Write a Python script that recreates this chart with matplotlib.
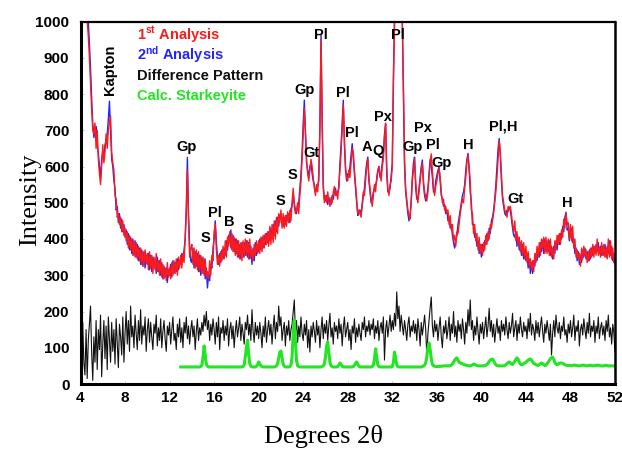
import numpy as np
import matplotlib
matplotlib.use("Agg")
import matplotlib.pyplot as plt

# scan step of the XRD pattern (degrees 2-theta)
step = 0.1
start_main = 4.0
start_diff = 4.2
start_calc = 13.0

# 1st analysis, 4.0 .. 52.0 (one row per degree)
analysis_1 = [
    1000, 1000, 1000, 1000, 1000, 1000, 1000, 960, 900, 830,
    760, 700, 690, 720, 650, 700, 620, 580, 550, 600,
    660, 610, 640, 690, 650, 700, 720, 740, 640, 610,
    590, 520, 510, 460, 470, 440, 460, 420, 450, 410,
    430, 395, 420, 375, 410, 370, 400, 355, 395, 350,
    390, 345, 380, 340, 375, 330, 365, 325, 370, 335,
    360, 315, 365, 320, 355, 305, 350, 315, 360, 310,
    340, 300, 345, 295, 330, 290, 320, 285, 335, 295,
    320, 290, 335, 300, 340, 305, 345, 300, 350, 320,
    355, 320, 360, 335, 400, 470, 590, 450, 350, 375,
    385, 330, 375, 320, 370, 315, 365, 310, 355, 305,
    350, 300, 345, 295, 310, 290, 340, 300, 355, 340,
    420, 440, 370, 330, 355, 325, 365, 340, 380, 345,
    395, 350, 405, 380, 420, 375, 415, 365, 405, 355,
    400, 350, 395, 345, 390, 340, 395, 350, 400, 355,
    395, 345, 400, 350, 370, 340, 385, 355, 395, 360,
    395, 360, 405, 365, 410, 375, 415, 385, 420, 380,
    435, 385, 440, 390, 450, 400, 460, 415, 470, 445,
    480, 430, 470, 430, 465, 435, 475, 445, 480, 450,
    500, 540, 490, 470, 480, 500, 470, 520, 560, 620,
    690, 760, 700, 620, 580, 560, 590, 620, 600, 570,
    540, 520, 550, 530, 580, 700, 950, 720, 540, 500,
    520, 500, 530, 505, 490, 515, 500, 530, 545, 520,
    530, 510, 550, 590, 640, 700, 770, 680, 600, 570,
    560, 590, 570, 610, 650, 640, 590, 550, 510, 470,
    480, 470, 460, 500, 530, 520, 560, 600, 620, 570,
    540, 510, 490, 520, 550, 530, 570, 590, 600, 580,
    560, 600, 620, 680, 720, 600, 540, 520, 550, 560,
    600, 820, 1000, 1000, 1000, 1000, 1000, 1000, 1000, 1000,
    820, 620, 540, 510, 480, 465, 455, 500, 560, 590,
    620, 560, 520, 500, 530, 560, 590, 610, 560, 530,
    515, 505, 530, 570, 610, 635, 590, 540, 520, 545,
    560, 580, 595, 570, 530, 500, 510, 480, 490, 470,
    480, 440, 465, 425, 440, 395, 410, 380, 420, 415,
    440, 470, 490, 510, 500, 540, 570, 610, 630, 600,
    560, 480, 470, 415, 440, 395, 415, 370, 405, 360,
    385, 355, 390, 370, 410, 385, 420, 400, 440, 430,
    450, 470, 500, 530, 570, 620, 670, 640, 580, 520,
    500, 480, 470, 460, 490, 480, 490, 470, 440, 420,
    450, 395, 420, 385, 405, 365, 395, 355, 390, 345,
    380, 335, 365, 325, 345, 315, 340, 310, 360, 335,
    380, 350, 390, 355, 400, 375, 405, 360, 405, 360,
    400, 355, 400, 350, 375, 345, 395, 370, 410, 385,
    415, 385, 425, 405, 455, 430, 470, 440, 445, 400,
    440, 395, 435, 375, 400, 350, 370, 345, 360, 325,
    375, 345, 380, 355, 370, 335, 365, 340, 375, 350,
    385, 350, 380, 355, 400, 355, 375, 350, 390, 355,
    385, 350, 375, 345, 400, 350, 395, 345, 375, 335,
    340,
]

# 2nd analysis, 4.0 .. 52.0
analysis_2 = [
    1000, 1000, 1000, 1000, 1000, 1000, 1000, 1000, 940, 870,
    790, 720, 680, 700, 710, 660, 640, 600, 570, 620,
    640, 630, 660, 670, 690, 730, 780, 700, 620, 600,
    560, 540, 480, 490, 445, 470, 430, 455, 420, 440,
    405, 425, 385, 415, 370, 405, 360, 400, 355, 395,
    350, 385, 340, 375, 330, 370, 325, 365, 320, 355,
    330, 360, 315, 355, 310, 350, 320, 345, 305, 350,
    310, 340, 300, 335, 290, 325, 295, 320, 280, 315,
    300, 330, 295, 340, 305, 335, 310, 345, 315, 340,
    330, 360, 340, 370, 400, 490, 625, 470, 380, 340,
    335, 375, 320, 365, 325, 360, 310, 355, 300, 350,
    305, 345, 290, 320, 265, 300, 285, 330, 320, 375,
    400, 450, 395, 350, 330, 360, 335, 370, 345, 375,
    355, 395, 370, 410, 395, 425, 370, 410, 365, 400,
    360, 395, 350, 385, 345, 390, 350, 390, 355, 395,
    350, 390, 345, 380, 330, 375, 340, 390, 355, 385,
    365, 400, 370, 405, 375, 410, 385, 415, 390, 420,
    395, 430, 400, 440, 410, 450, 420, 460, 435, 465,
    470, 445, 435, 460, 440, 465, 450, 470, 445, 485,
    490, 525, 500, 480, 470, 490, 500, 540, 580, 640,
    720, 783, 690, 610, 590, 570, 600, 610, 580, 560,
    550, 530, 540, 545, 560, 720, 964, 740, 550, 510,
    505, 520, 495, 515, 500, 495, 520, 510, 530, 540,
    520, 530, 540, 610, 660, 720, 783, 660, 590, 560,
    580, 570, 600, 630, 663, 620, 580, 540, 500, 465,
    470, 480, 470, 490, 520, 540, 580, 610, 626, 560,
    530, 500, 510, 530, 540, 550, 560, 585, 600, 570,
    580, 610, 640, 690, 718, 580, 530, 530, 540, 575,
    610, 850, 1000, 1000, 1000, 1000, 1000, 1000, 1000, 1000,
    790, 600, 530, 500, 470, 450, 470, 510, 570, 610,
    626, 540, 510, 510, 540, 570, 600, 618, 550, 520,
    505, 520, 540, 580, 620, 600, 570, 530, 530, 560,
    575, 590, 599, 560, 520, 510, 490, 495, 470, 480,
    450, 460, 430, 440, 410, 390, 375, 395, 410, 440,
    460, 480, 500, 520, 530, 550, 590, 620, 636, 590,
    530, 500, 440, 440, 405, 415, 380, 395, 360, 385,
    350, 385, 365, 395, 385, 415, 395, 430, 415, 450,
    460, 480, 510, 550, 600, 650, 677, 630, 560, 510,
    490, 470, 465, 480, 475, 488, 480, 455, 430, 410,
    405, 420, 380, 405, 370, 390, 355, 385, 345, 370,
    340, 360, 320, 345, 305, 335, 305, 340, 325, 360,
    340, 375, 350, 390, 365, 397, 360, 400, 365, 395,
    365, 395, 355, 380, 345, 380, 360, 395, 370, 410,
    385, 415, 400, 435, 420, 460, 474, 425, 430, 395,
    415, 430, 390, 400, 360, 375, 340, 365, 330, 355,
    335, 370, 350, 375, 345, 365, 340, 370, 345, 375,
    355, 380, 360, 385, 365, 390, 360, 380, 355, 380,
    355, 385, 350, 380, 360, 395, 355, 380, 340, 360,
    330,
]

# difference pattern, 4.2 .. 52.0
difference = [
    170, 60, 25, 150, 15, 120, 165, 215,
    90, 10, 130, 60, 175, 40, 150, 95, 190, 20,
    110, 175, 70, 160, 40, 185, 120, 60, 170, 90,
    150, 55, 180, 110, 45, 165, 130, 80, 185, 60,
    140, 200, 110, 175, 90, 215, 130, 160, 100, 190,
    140, 95, 175, 120, 205, 110, 160, 135, 185, 90,
    150, 180, 115, 170, 130, 95, 165, 140, 190, 105,
    155, 120, 180, 100, 145, 175, 125, 90, 160, 135,
    170, 110, 150, 185, 120, 140, 95, 165, 130, 180,
    115, 155, 100, 170, 140, 185, 125, 160, 110, 150,
    175, 130, 160, 95, 145, 180, 120, 155, 135, 170,
    145, 190, 160, 200, 150, 175, 120, 165, 135, 180,
    150, 110, 170, 130, 185, 95, 155, 140, 175, 120,
    160, 135, 180, 105, 150, 170, 125, 160, 100, 145,
    175, 130, 155, 185, 120, 165, 140, 110, 170, 150,
    190, 135, 165, 120, 205, 145, 115, 170, 135, 160,
    125, 170, 140, 100, 160, 130, 185, 115, 150, 175,
    135, 165, 110, 155, 190, 125, 170, 145, 215, 160,
    185, 120, 150, 170, 105, 160, 135, 175, 120, 150,
    165, 200, 232, 140, 175, 115, 160, 130, 185, 140,
    120, 165, 135, 175, 100, 150, 88, 160, 130, 170,
    145, 115, 175, 135, 160, 100, 150, 185, 125, 165,
    140, 175, 120, 160, 195, 130, 155, 110, 170, 145,
    160, 125, 180, 140, 165, 105, 155, 185, 130, 150,
    170, 120, 150, 95, 160, 140, 180, 115, 155, 130,
    165, 140, 120, 170, 150, 185, 130, 160, 145, 175,
    135, 165, 150, 180, 125, 160, 140, 175, 120, 155,
    170, 140, 185, 66, 150, 175, 130, 160, 190, 145,
    175, 150, 195, 160, 254, 180, 215, 145, 190, 160,
    135, 175, 150, 120, 165, 185, 130, 160, 145, 175,
    140, 165, 120, 180, 150, 105, 170, 135, 160, 190,
    150, 75, 140, 175, 210, 240, 160, 130, 175, 145,
    165, 120, 155, 185, 130, 100, 160, 140, 175, 125,
    150, 185, 120, 165, 140, 200, 130, 160, 115, 175,
    145, 165, 125, 180, 150, 110, 170, 140, 205, 160,
    232, 150, 175, 120, 160, 135, 185, 145, 110, 165,
    140, 170, 125, 155, 185, 130, 160, 209, 145, 175,
    130, 165, 115, 150, 180, 140, 160, 120, 175, 145,
    165, 135, 185, 150, 125, 170, 140, 160, 195, 130,
    155, 175, 120, 165, 140, 185, 150, 130, 170, 145,
    160, 125, 180, 145, 195, 135, 165, 150, 120, 175,
    140, 170, 130, 160, 185, 145, 115, 165, 140, 175,
    150, 120, 165, 80, 140, 175, 130, 190, 155, 140,
    170, 125, 160, 145, 185, 135, 150, 115, 165, 140,
    175, 130, 155, 190, 120, 160, 145, 175, 105, 150,
    165, 135, 180, 150, 125, 170, 140, 195, 130, 160,
    145, 175, 115, 160, 140, 185, 125, 155, 170, 135,
    160, 120, 175, 145, 190, 130, 155, 110, 165, 140,
    88,
]

# calculated starkeyite pattern, 13.0 .. 52.0
starkeyite = [
    47, 47, 47, 47, 47, 47, 47, 47, 47, 47,
    47, 47, 47, 47, 47, 47, 47, 47, 48, 52,
    72, 105, 80, 55, 49, 47, 47, 47, 47, 47,
    47, 47, 47, 47, 47, 47, 47, 47, 47, 47,
    47, 47, 47, 47, 47, 47, 47, 47, 47, 47,
    47, 47, 47, 47, 47, 47, 48, 53, 75, 100,
    121, 82, 56, 49, 47, 47, 47, 47, 49, 53,
    61, 56, 50, 48, 47, 47, 47, 47, 47, 47,
    47, 47, 47, 47, 47, 48, 50, 56, 72, 88,
    91, 72, 55, 49, 47, 47, 47, 47, 48, 52,
    75, 140, 177, 120, 65, 50, 48, 47, 47, 47,
    47, 47, 47, 47, 47, 47, 47, 47, 47, 47,
    47, 47, 47, 47, 47, 47, 47, 48, 50, 55,
    75, 105, 116, 88, 60, 50, 48, 47, 47, 47,
    47, 48, 52, 58, 54, 49, 47, 47, 47, 47,
    47, 47, 47, 47, 47, 48, 52, 57, 61, 54,
    49, 47, 47, 47, 47, 47, 47, 47, 47, 47,
    47, 47, 48, 52, 70, 97, 75, 52, 48, 47,
    47, 47, 47, 47, 47, 47, 47, 47, 47, 47,
    48, 60, 88, 70, 52, 48, 47, 47, 47, 47,
    47, 47, 47, 47, 47, 47, 47, 47, 47, 47,
    47, 47, 47, 47, 47, 47, 47, 48, 50, 52,
    58, 75, 100, 113, 95, 70, 55, 50, 49, 48,
    48, 48, 48, 49, 49, 49, 50, 50, 50, 50,
    50, 50, 51, 52, 55, 60, 66, 70, 72, 66,
    60, 58, 57, 56, 54, 53, 52, 51, 51, 50,
    50, 51, 53, 55, 54, 52, 51, 50, 50, 50,
    50, 50, 50, 51, 52, 54, 57, 62, 66, 68,
    69, 64, 58, 53, 51, 50, 50, 50, 50, 50,
    50, 51, 53, 56, 59, 61, 58, 55, 54, 58,
    63, 68, 72, 68, 60, 55, 53, 54, 56, 58,
    60, 63, 66, 68, 69, 66, 61, 57, 55, 54,
    52, 51, 53, 56, 58, 56, 53, 51, 52, 56,
    60, 65, 70, 72, 74, 68, 59, 55, 53, 55,
    57, 58, 58, 57, 55, 53, 52, 51, 51, 51,
    51, 51, 51, 52, 52, 51, 51, 50, 50, 51,
    51, 52, 52, 51, 50, 50, 51, 51, 52, 51,
    50, 50, 51, 51, 52, 52, 51, 50, 50, 50,
    50, 51, 51, 51, 50, 50, 50, 50, 50, 50,
    50,
]

# phase labels: (text, 2-theta, intensity)
peak_labels = [
    ("Gp", 13.56, 654), ("S", 15.2, 403), ("Pl", 16.07, 472), ("B", 17.4, 448),
    ("S", 19.1, 426), ("S", 21.95, 505), ("S", 23.07, 577), ("Gp", 24.15, 811),
    ("Gt", 24.75, 637), ("Pl", 25.55, 963), ("Pl", 27.56, 803), ("Pl", 28.4, 692),
    ("A", 29.72, 654), ("Q", 30.7, 643), ("Px", 31.15, 737), ("Pl", 32.5, 963),
    ("Gp", 33.85, 654), ("Px", 34.74, 706), ("Pl", 35.6, 660), ("Gp", 36.45, 610),
    ("H", 38.8, 660), ("Pl,H", 41.95, 709), ("Gt", 43.05, 510), ("H", 47.7, 499),
]

legend_lines = [
    ("1$^{\\mathrm{st}}$ Analysis", "#ff1a1a"),
    ("2$^{\\mathrm{nd}}$ Analysis", "#2424ff"),
    ("Difference Pattern", "#111111"),
    ("Calc. Starkeyite", "#22e622"),
]

plt.rcParams["font.family"] = ["Liberation Sans", "DejaVu Sans"]
plt.rcParams["mathtext.fontset"] = "custom"
plt.rcParams["mathtext.rm"] = "Liberation Sans:bold"
plt.rcParams["mathtext.bf"] = "Liberation Sans:bold"
plt.rcParams["mathtext.it"] = "Liberation Sans:bold"


def grid(start, values):
    return start + step * np.arange(len(values))


fig = plt.figure(figsize=(6.22, 4.51), dpi=100)
ax = fig.add_axes([80.5 / 622, 67 / 451, 534.5 / 622, 362.5 / 451])

ax.plot(grid(start_diff, difference), difference, color="#111111", lw=0.8)
ax.plot(grid(start_calc, starkeyite), starkeyite, color="#22e622", lw=2.2)
ax.plot(grid(start_main, analysis_2), analysis_2, color="#2424ff", lw=1.0)
ax.plot(grid(start_main, analysis_1), analysis_1, color="#ff1a1a", lw=1.0)

ax.set_xlim(4, 52)
ax.set_ylim(0, 1000)
ax.set_xticks(np.arange(4, 53, 4))
ax.set_yticks(np.arange(0, 1001, 100))
ax.tick_params(direction="in", length=2.5, width=0.6, color="#bbbbbb")
ax.tick_params(axis="x", pad=5)
ax.tick_params(axis="y", pad=8)
for lab in ax.get_xticklabels() + ax.get_yticklabels():
    lab.set_fontweight("bold")
    lab.set_fontsize(11)

ax.spines["left"].set_linewidth(2.2)
ax.spines["bottom"].set_linewidth(2.2)
ax.spines["top"].set_linewidth(1.6)
ax.spines["right"].set_linewidth(1.8)

for text, x, y in peak_labels:
    ax.text(x, y, text, ha="center", va="center", fontsize=10.5,
            fontweight="bold", color="black")
ax.text(6.65, 866, "Kapton", rotation=90, ha="center", va="center",
        fontsize=10.5, fontweight="bold")

for i, (text, col) in enumerate(legend_lines):
    ax.text(9.07, 951 - i * 55.5, text, ha="left", va="baseline",
            fontsize=10.5, fontweight="bold", color=col)

fig.text(30 / 622, 1 - 200 / 451, "Intensity", rotation=90, ha="center",
         va="center", family="Liberation Serif", fontsize=19)
fig.text(324 / 622, 1 - 437 / 451, "Degrees 2\u03b8", ha="center",
         va="center", family="Liberation Serif", fontsize=19)

fig.savefig("out.png", dpi=100)
